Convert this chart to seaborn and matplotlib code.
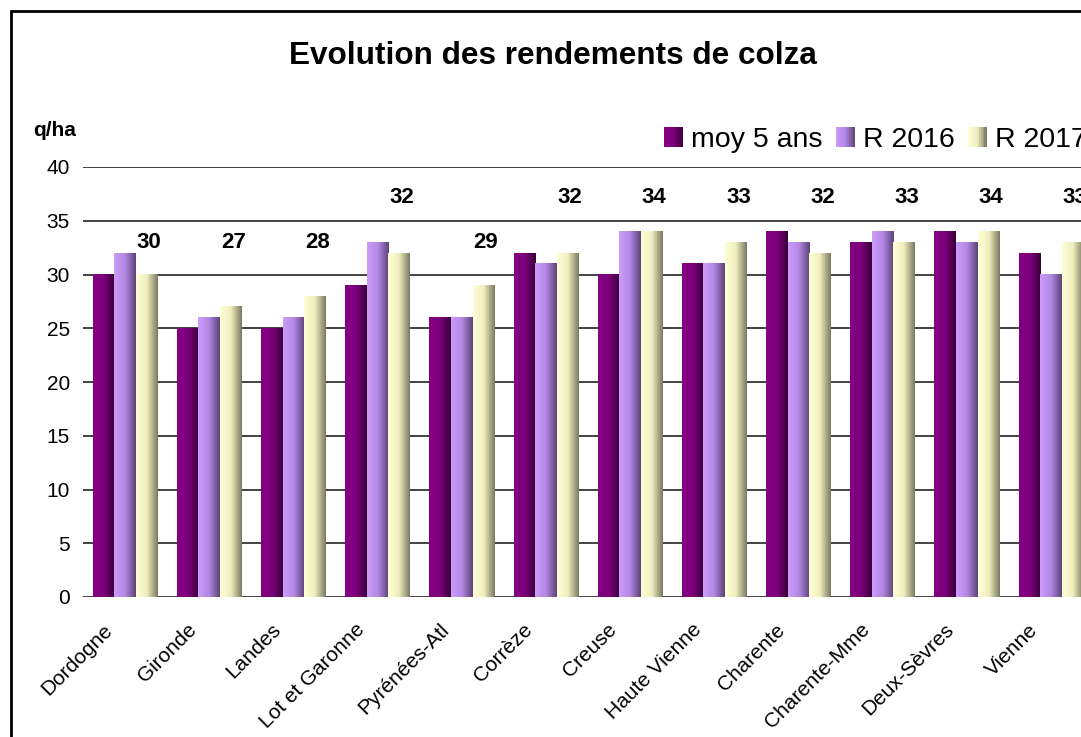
import numpy as np
import pandas as pd
import matplotlib
matplotlib.use('Agg')
import matplotlib.pyplot as plt
import matplotlib.transforms as mtransforms
from matplotlib.colors import LinearSegmentedColormap
from matplotlib.patches import Rectangle
from matplotlib.legend_handler import HandlerBase
import seaborn as sns

departements = ['Dordogne', 'Gironde', 'Landes', 'Lot et Garonne', 'Pyrénées-Atl',
                'Corrèze', 'Creuse', 'Haute Vienne', 'Charente', 'Charente-Mme',
                'Deux-Sèvres', 'Vienne']
series = ['moy 5 ans', 'R 2016', 'R 2017']
moy_5_ans = [30, 25, 25, 29, 26, 32, 30, 31, 34, 33, 34, 32]
r_2016 = [32, 26, 26, 33, 26, 31, 34, 31, 33, 34, 33, 30]
r_2017 = [30, 27, 28, 32, 29, 32, 34, 33, 32, 33, 34, 33]

df = pd.DataFrame({
    'dept': departements * 3,
    'serie': np.repeat(series, len(departements)),
    'rdt': moy_5_ans + r_2016 + r_2017,
})

# horizontal gradients, light on the left, dark on the right
grads = {
    'moy 5 ans': ['#840084', '#7c007c', '#3a0038'],
    'R 2016': ['#cc9cfa', '#b488e6', '#5c4478'],
    'R 2017': ['#ffffd6', '#eeeebe', '#7a7a62'],
}
cmaps = {k: LinearSegmentedColormap.from_list(k, v) for k, v in grads.items()}
mid = {k: v[1] for k, v in grads.items()}

sns.set_style('white')
plt.rcParams['font.family'] = ['Liberation Sans', 'DejaVu Sans']
plt.rcParams['text.color'] = 'black'
plt.rcParams['xtick.color'] = 'black'
plt.rcParams['ytick.color'] = 'black'

W, H = 1081, 737
fig = plt.figure(figsize=(W / 100, H / 100), dpi=100)
ax = fig.add_axes([83 / W, (H - 597) / H, 1010 / W, 430 / H])

sns.barplot(data=df, x='dept', y='rdt', hue='serie', order=departements,
            hue_order=series, palette=mid, width=0.77, ax=ax, legend=False,
            errorbar=None, edgecolor='none', linewidth=0)

ramp = np.linspace(0, 1, 64).reshape(1, -1)
for serie, cont in zip(series, ax.containers):
    for bar in cont:
        x0, y0 = bar.get_x(), bar.get_y()
        w, h = bar.get_width(), bar.get_height()
        ax.imshow(ramp, cmap=cmaps[serie], extent=[x0, x0 + w, y0, y0 + h],
                  aspect='auto', zorder=3, interpolation='bilinear')
        bar.set_visible(False)

ax.set_xlim(-0.5, len(departements) - 0.5)
ax.set_ylim(0, 40)
ax.set_yticks(range(0, 41, 5))
ax.yaxis.grid(True, color='#222222', linewidth=1.2)
ax.set_axisbelow(True)
for s in ax.spines.values():
    s.set_visible(False)
ax.set_xlabel('')
ax.set_ylabel('')
ax.tick_params(axis='y', left=False, pad=6, labelsize=15, labelcolor='black')
ax.tick_params(axis='x', bottom=False, pad=18, labelsize=15, labelcolor='black')

offset = mtransforms.ScaledTranslation(-0.16, 0, fig.dpi_scale_trans)
for lab in ax.get_xticklabels():
    lab.set_rotation(45)
    lab.set_ha('right')
    lab.set_va('center')
    lab.set_rotation_mode('anchor')
    lab.set_transform(lab.get_transform() + offset)

# R 2017 value labels, placed on two levels as in the original
r17 = ax.containers[2]
for bar, v in zip(r17, r_2017):
    yl = 37.2 if v >= 32 else 33.0
    ax.text(bar.get_x() + bar.get_width() / 2 + 0.03, yl, f'{v}', ha='center',
            va='center', fontsize=16, fontweight='bold', color='black', zorder=5)


class GradHandler(HandlerBase):
    def create_artists(self, legend, orig_handle, xdescent, ydescent,
                       width, height, fontsize, trans):
        cm = cmaps[orig_handle.get_label()]
        n = 10
        arts = []
        for i in range(n):
            r = Rectangle((-xdescent + i * width / n, -ydescent), width / n + 0.3,
                          height, facecolor=cm((i + 0.5) / n), edgecolor='none',
                          transform=trans)
            arts.append(r)
        return arts


handles = [Rectangle((0, 0), 1, 1, label=s) for s in series]
fig.legend(handles=handles, labels=series, loc='center left',
           bbox_to_anchor=(664 / W, 1 - 140 / H), ncol=3, frameon=False,
           fontsize=20.5, handlelength=0.66, handleheight=0.66,
           handletextpad=0.3, columnspacing=0.45, borderpad=0,
           borderaxespad=0, handler_map={Rectangle: GradHandler()})

fig.text(553 / W, 1 - 56 / H, 'Evolution des rendements de colza',
         ha='center', va='center', fontsize=22.7, fontweight='bold')
fig.text(33 / W, 1 - 130 / H, 'q/ha', ha='left', va='center',
         fontsize=15, fontweight='bold')

fig.add_artist(Rectangle((10.5 / W, -0.1), 2, 1.1 - 10.5 / H, fill=False,
                         edgecolor='black', linewidth=2,
                         transform=fig.transFigure, clip_on=False))

fig.savefig('out.png', dpi=100)
